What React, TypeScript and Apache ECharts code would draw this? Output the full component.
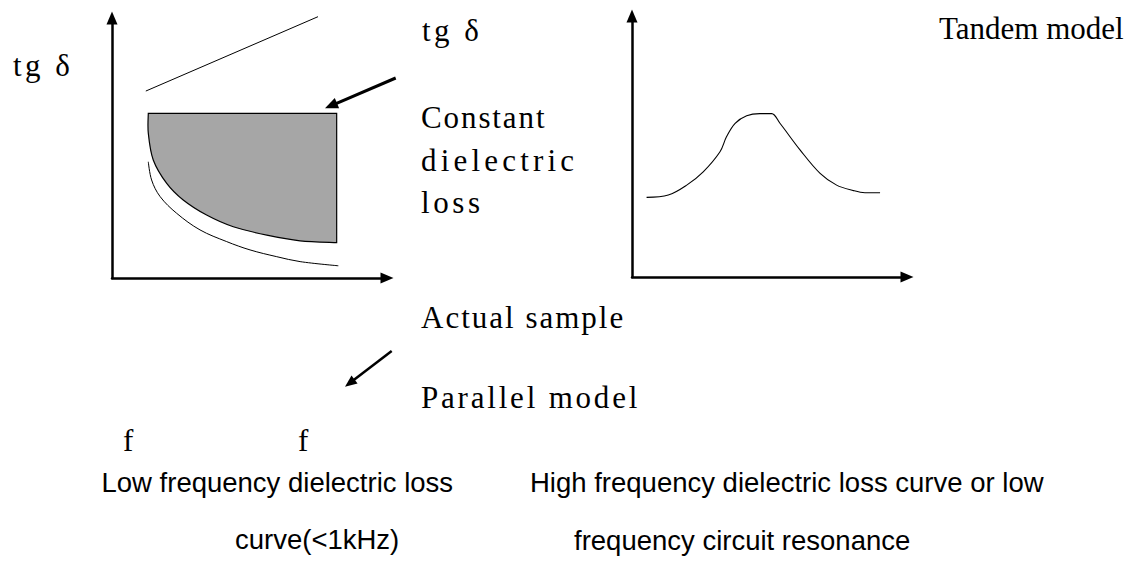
import React, { useEffect, useRef } from "react";
import * as echarts from "echarts";

// ---- Left diagram: low-frequency tg δ curves (arbitrary units; x = f, y = tg δ)
const actualSampleX = [1.23, 7.49];
const actualSampleY = [7.19, 10.05];
const constantLossLevel = 6.33;
const constantEdgeX = [1.32, 1.32, 1.5, 1.99, 2.59, 3.44, 4.41, 5.63, 6.84, 8.17];
const constantEdgeY = [6.33, 5.57, 4.54, 3.64, 3.0, 2.42, 1.97, 1.65, 1.43, 1.36];
const parallelX = [1.32, 1.44, 1.75, 2.35, 3.2, 4.17, 5.02, 5.99, 6.84, 8.23];
const parallelY = [4.47, 3.77, 3.13, 2.49, 1.85, 1.4, 1.08, 0.82, 0.63, 0.47];

// ---- Right diagram: tandem model resonance curve
const tandemX = [0.53, 1.32, 1.99, 2.59, 3.2, 3.44, 3.75, 4.17, 4.65, 5.08, 5.38, 6.11, 6.84, 7.44, 8.05, 8.47, 9.02];
const tandemY = [3.05, 3.14, 3.52, 4.03, 4.8, 5.38, 5.89, 6.18, 6.26, 6.26, 5.89, 4.87, 3.97, 3.52, 3.31, 3.23, 3.23];

const axisMin = 0;
const axisMax = 10;

// ---- Texts
const labelTgDelta = "tg δ";
const labelTandem = "Tandem model";
const labelConstant = ["Constant", "dielectric", "loss"];
const labelActual = "Actual sample";
const labelParallel = "Parallel model";
const labelFreq = "f";
const captionLow = ["Low frequency dielectric loss", "curve(<1kHz)"];
const captionHigh = ["High frequency dielectric loss curve or low", "frequency circuit resonance"];

const SERIF_SIZE = 31;
const SANS = "27.5px 'Liberation Sans', Arial, sans-serif";

function zip(xs: number[], ys: number[]) {
  return xs.map((x, i) => [x, ys[i]]);
}

function catmullPath(pts: number[][]) {
  let d = "";
  for (let i = 0; i < pts.length - 1; i++) {
    const p0 = pts[Math.max(0, i - 1)];
    const p1 = pts[i];
    const p2 = pts[i + 1];
    const p3 = pts[Math.min(pts.length - 1, i + 2)];
    const c1x = p1[0] + (p2[0] - p0[0]) / 6;
    const c1y = p1[1] + (p2[1] - p0[1]) / 6;
    const c2x = p2[0] - (p3[0] - p1[0]) / 6;
    const c2y = p2[1] - (p3[1] - p1[1]) / 6;
    d += ` C ${c1x} ${c1y} ${c2x} ${c2y} ${p2[0]} ${p2[1]}`;
  }
  return d;
}

function text(t: string, x: number, y: number, font: string) {
  return {
    type: "text",
    x,
    y,
    silent: true,
    style: { text: t, font, fill: "#000", align: "left", verticalAlign: "middle" },
  };
}

// serif labels, each tagged with a spacing token so CSS letter-spacing can emulate the
// fixed-pitch layout of the original typeface
const serifItems: { t: string; x: number; y: number; ls: number }[] = [
  { t: labelTgDelta, x: 13, y: 65.5, ls: 3.5 },
  { t: labelTgDelta, x: 422, y: 30.2, ls: 3.5 },
  { t: labelTandem, x: 939, y: 28.8, ls: 0 },
  { t: labelConstant[0], x: 421, y: 117.8, ls: 1.9 },
  { t: labelConstant[1], x: 421, y: 160.2, ls: 4.2 },
  { t: labelConstant[2], x: 421, y: 202.5, ls: 3.6 },
  { t: labelActual, x: 421, y: 317.8, ls: 2.0 },
  { t: labelParallel, x: 421, y: 397.8, ls: 2.8 },
  { t: labelFreq, x: 123, y: 440.2, ls: 0 },
  { t: labelFreq, x: 298, y: 440.2, ls: 0 },
];

const serifCss = serifItems
  .map((it, i) => `#dl-chart text[style*="ls${i}x"]{letter-spacing:${it.ls}px;}`)
  .join("\n");

function arrow(x1: number, y1: number, x2: number, y2: number, w: number, hl: number, hw: number) {
  const dx = x2 - x1;
  const dy = y2 - y1;
  const L = Math.hypot(dx, dy);
  const ux = dx / L;
  const uy = dy / L;
  const bx = x2 - ux * hl;
  const by = y2 - uy * hl;
  const px = -uy;
  const py = ux;
  return [
    {
      type: "line",
      silent: true,
      shape: { x1, y1, x2: bx + ux, y2: by + uy },
      style: { stroke: "#000", lineWidth: w },
    },
    {
      type: "polygon",
      silent: true,
      shape: {
        points: [
          [x2, y2],
          [bx + (px * hw) / 2, by + (py * hw) / 2],
          [bx - (px * hw) / 2, by - (py * hw) / 2],
        ],
      },
      style: { fill: "#000" },
    },
  ];
}

const axisLine = {
  show: true,
  onZero: false,
  symbol: ["none", "triangle"],
  symbolSize: [11, 13],
  lineStyle: { color: "#000", width: 2.5 },
};

function valueAxis(gridIndex: number) {
  return {
    type: "value",
    gridIndex,
    min: axisMin,
    max: axisMax,
    axisLine,
    axisTick: { show: false },
    axisLabel: { show: false },
    splitLine: { show: false },
  };
}

export default function App() {
  const ref = useRef<HTMLDivElement>(null);

  useEffect(() => {
    if (!ref.current) return;
    const chart = echarts.init(ref.current, undefined, { renderer: "svg" });

    const lineStyleThin = { color: "#000", width: 1 };

    const option: any = {
      animation: false,
      backgroundColor: "#fff",
      grid: [
        { left: 112, top: 18, width: 275, height: 260 },
        { left: 632, top: 16, width: 275, height: 261 },
      ],
      xAxis: [valueAxis(0), valueAxis(1)],
      yAxis: [valueAxis(0), valueAxis(1)],
      series: [
        {
          name: "Actual sample",
          type: "line",
          xAxisIndex: 0,
          yAxisIndex: 0,
          data: zip(actualSampleX, actualSampleY),
          showSymbol: false,
          clip: false,
          lineStyle: lineStyleThin,
          silent: true,
        },
        {
          name: "Constant dielectric loss",
          type: "custom",
          xAxisIndex: 0,
          yAxisIndex: 0,
          clip: false,
          silent: true,
          data: [[constantEdgeX[0], constantLossLevel]],
          encode: { x: 0, y: 1 },
          renderItem: (_params: any, api: any) => {
            const n = constantEdgeX.length;
            const tr = api.coord([constantEdgeX[n - 1], constantLossLevel]);
            const edge: number[][] = [];
            for (let i = n - 1; i >= 0; i--) edge.push(api.coord([constantEdgeX[i], constantEdgeY[i]]));
            const d = `M ${tr[0]} ${tr[1]} L ${edge[0][0]} ${edge[0][1]}` + catmullPath(edge) + " Z";
            return {
              type: "path",
              shape: { pathData: d },
              style: { fill: "#a6a6a6", stroke: "#000", lineWidth: 1.2 },
            };
          },
        },
        {
          name: "Parallel model",
          type: "line",
          xAxisIndex: 0,
          yAxisIndex: 0,
          data: zip(parallelX, parallelY),
          showSymbol: false,
          smooth: 0.35,
          clip: false,
          lineStyle: lineStyleThin,
          silent: true,
        },
        {
          name: "Tandem model",
          type: "line",
          xAxisIndex: 1,
          yAxisIndex: 1,
          data: zip(tandemX, tandemY),
          showSymbol: false,
          smooth: 0.35,
          clip: false,
          lineStyle: { color: "#000", width: 1.1 },
          silent: true,
        },
      ],
      graphic: [
        ...serifItems.map((it, i) =>
          text(it.t, it.x, it.y, `${SERIF_SIZE}px 'Liberation Serif', ls${i}x, serif`)
        ),
        text(captionLow[0], 101.5, 482.7, SANS),
        text(captionLow[1], 235, 539.4, SANS),
        text(captionHigh[0], 530, 482.7, SANS),
        text(captionHigh[1], 574, 540, SANS),
        ...arrow(395.7, 78, 325, 108.3, 3, 13, 11),
        ...arrow(391.7, 351, 345, 386.7, 2.5, 12, 10),
      ],
    };

    chart.setOption(option);
    return () => chart.dispose();
  }, []);

  return (
    <>
      <style>{serifCss}</style>
      <div
        id="dl-chart"
        ref={ref}
        style={{ position: "fixed", left: 0, top: 0, width: 1135, height: 564, background: "#fff" }}
      />
    </>
  );
}
